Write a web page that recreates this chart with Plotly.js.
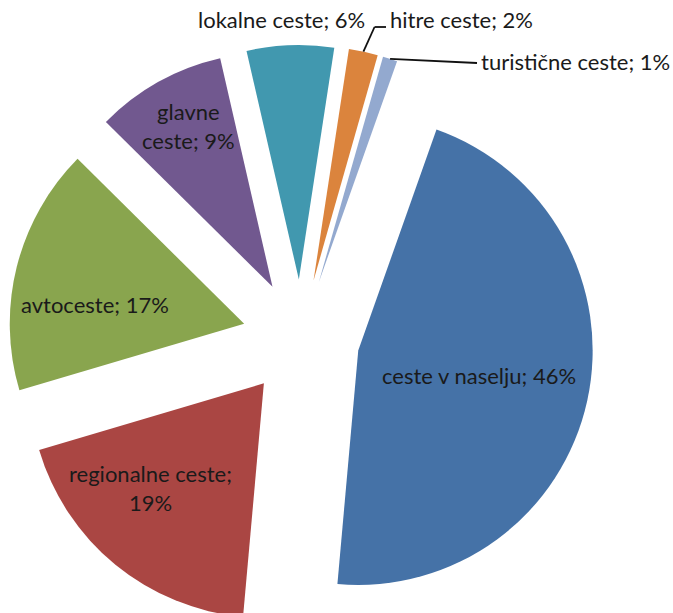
<!DOCTYPE html>
<html>
<head>
<meta charset="utf-8">
<script src="https://cdn.plot.ly/plotly-3.0.1.min.js"></script>
<style>
html,body{margin:0;padding:0;overflow:hidden;background:#fff;}
#chart{width:673px;height:640px;}
</style>
</head>
<body>
<div id="chart"></div>
<script>
// ---- data ----
const categories = ['ceste v naselju', 'regionalne ceste', 'avtoceste', 'glavne ceste', 'lokalne ceste', 'hitre ceste', 'turistične ceste'];
const shares = [46, 19, 17, 9, 6, 2, 1];
const colors = ['#4572A7', '#AA4643', '#89A54E', '#71588F', '#4198AF', '#DB843D', '#93A9CF'];
// number of words on the first line of a wrapped label (0 = single line)
const wrapWords = [0, 2, 0, 1, 0, 0, 0];

// ---- layout geometry ----
const W = 673, H = 640;
const M = {l: 8, r: 79, t: 45, b: 9};
const pull = 0.25;
const rotation = 19.5;
const FONT = 'Lato, "Open Sans", sans-serif';
const FS = 22;

const labelText = categories.map((c, i) => {
  const words = (c + '; ' + shares[i] + '%').split(' ');
  const n = wrapWords[i];
  return n ? words.slice(0, n).join(' ') + '<br>' + words.slice(n).join(' ') : words.join(' ');
});

// label placement (pixel positions of text), kept apart from data
const labelPlacement = [
  {x: 479, y: 375, anchor: 'center', line: null},
  {x: 150, y: 488, anchor: 'center', line: null},
  {x: 95, y: 304, anchor: 'center', line: null},
  {x: 188, y: 126, anchor: 'center', line: null},
  {x: 281, y: 19, anchor: 'center', line: null},
  {x: 388, y: 20, anchor: 'left', line: {elbowY: 27, endX: 386}},
  {x: 479, y: 62, anchor: 'left', line: {endX: 477, endY: 63}}
];

const pw = W - M.l - M.r, ph = H - M.t - M.b;
const cx = M.l + pw / 2, cy = M.t + ph / 2;
const rad = Math.min(pw, ph) / 2 / (1 + pull);
const px2x = px => (px - M.l) / pw;
const py2y = py => 1 - (py - M.t) / ph;
const total = shares.reduce((a, b) => a + b, 0);

function outerPoint(i) {
  let cum = 0;
  for (let k = 0; k < i; k++) cum += shares[k];
  const ang = (rotation + 360 * (cum + shares[i] / 2) / total) * Math.PI / 180;
  const d = rad * (1 + pull);
  return [cx + d * Math.sin(ang), cy - d * Math.cos(ang)];
}

const annotations = [];
const shapes = [];
labelPlacement.forEach((o, i) => {
  annotations.push({
    xref: 'paper', yref: 'paper', x: px2x(o.x), y: py2y(o.y),
    xanchor: o.anchor, yanchor: 'middle', align: 'center', showarrow: false,
    text: labelText[i], font: {family: FONT, size: FS, color: '#1a1a1a'}
  });
  if (o.line) {
    const [ax, ay] = outerPoint(i);
    const pts = [[ax, ay]];
    if (o.line.elbowY !== undefined) {
      const ex = ax + (ay - o.line.elbowY) * 0.45;
      pts.push([ex, o.line.elbowY], [o.line.endX, o.line.elbowY]);
    } else {
      pts.push([o.line.endX, o.line.endY]);
    }
    for (let k = 0; k < pts.length - 1; k++) {
      shapes.push({
        type: 'line', xref: 'paper', yref: 'paper',
        x0: px2x(pts[k][0]), y0: py2y(pts[k][1]),
        x1: px2x(pts[k + 1][0]), y1: py2y(pts[k + 1][1]),
        line: {color: '#111', width: 1.8}
      });
    }
  }
});

const trace = {
  type: 'pie',
  labels: categories,
  values: shares,
  sort: false,
  direction: 'clockwise',
  rotation: rotation,
  pull: shares.map(() => pull),
  marker: {colors: colors, line: {width: 0}},
  textinfo: 'none',
  hoverinfo: 'label+percent',
  showlegend: false
};

const layout = {
  width: W, height: H,
  margin: M,
  paper_bgcolor: '#fff',
  showlegend: false,
  annotations: annotations,
  shapes: shapes
};

Plotly.newPlot('chart', [trace], layout, {displayModeBar: false, staticPlot: true});
</script>
</body>
</html>
